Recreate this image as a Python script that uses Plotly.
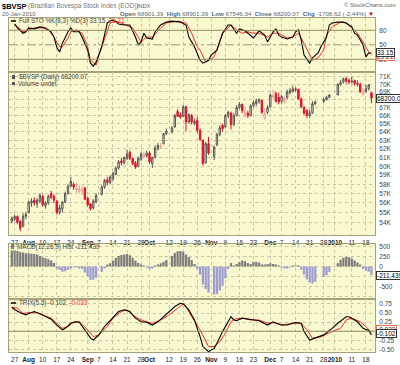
import pandas as pd
import plotly.graph_objects as go

W, H = 400, 365
FONT = "Liberation Sans, Arial, sans-serif"

# ---------------- data ----------------
days = pd.bdate_range("2009-07-24", "2010-01-20")          # 129 weekdays
N = len(days)

tick_dates = ["2009-07-27", "2009-08-03", "2009-08-10", "2009-08-17", "2009-08-24",
              "2009-09-01", "2009-09-07", "2009-09-14", "2009-09-21", "2009-09-28",
              "2009-10-01", "2009-10-12", "2009-10-19", "2009-10-26", "2009-11-02",
              "2009-11-09", "2009-11-16", "2009-11-23", "2009-12-01", "2009-12-07",
              "2009-12-14", "2009-12-21", "2009-12-28", "2010-01-01", "2010-01-11",
              "2010-01-18"]
tick_text = ["27", "<b>Aug</b>", "10", "17", "24", "<b>Sep</b>", "7", "14", "21", "28",
             "<b>Oct</b>", "12", "19", "26", "<b>Nov</b>", "9", "16", "23", "<b>Dec</b>",
             "7", "14", "21", "28", "<b>2010</b>", "11", "18"]

# OHLC in thousands of points (None = market holiday)
open_k = [54.1, 54.3, 54.6, 54.1, 53.6, 54.6, 55.0, 56.0, 56.3, 55.9,
          56.2, 56.7, 55.7, 56.0, 57.0, 56.7, 56.2, 55.0, 55.4, 56.1,
          57.0, 57.8, 58.0, 57.4, 57.3, 57.2, 57.6, 56.5, 55.9, 55.5,
          56.1, None, 56.9, 57.7, 58.5, 58.2, 58.6, 59.1, 59.8, 60.6,
          60.4, 60.9, 61.6, 60.9, 60.4, 60.0, 60.8, 61.1, 61.2, 61.5,
          60.3, 61.0, 62.0, 62.2, 62.6, 63.8, None, 64.0, 64.6, 66.5,
          66.1, 65.9, 67.1, 65.2, 66.0, 65.0, 65.4, 64.2, 63.0, 60.4,
          62.6, None, 61.1, 62.5, 63.7, 64.8, 64.6, 66.0, 66.3, 64.9,
          66.0, 67.0, 67.4, 66.0, 66.3, 66.0, 67.2, 67.5, 67.8, 67.9,
          65.7, 66.4, 67.1, 68.3, 68.8, 68.3, 67.8, 67.7, 68.3, 68.9,
          69.1, 69.4, 69.3, 68.1, 67.0, 66.6, 66.0, 66.3, 67.5, None,
          None, 67.8, 68.0, 68.3, None, None, 68.6, 70.0, 70.3, 70.8,
          70.5, 70.3, 70.5, 70.1, 70.0, 68.7, 69.0, 69.4, 68.90139]
high_k = [54.6, 54.8, 54.7, 54.2, 54.9, 55.1, 56.2, 56.5, 56.6, 56.5,
          57.0, 56.9, 56.2, 56.9, 57.3, 56.9, 56.3, 55.8, 56.2, 57.2,
          58.0, 58.8, 58.2, 58.2, 57.9, 57.8, 57.7, 56.7, 56.0, 56.4,
          57.0, None, 57.9, 58.6, 58.8, 59.0, 59.4, 60.0, 60.7, 61.0,
          61.1, 61.9, 61.8, 61.0, 60.6, 61.1, 61.6, 61.7, 61.8, 61.7,
          61.1, 62.4, 62.7, 62.7, 63.9, 64.4, None, 64.7, 66.2, 66.8,
          66.4, 67.3, 67.2, 66.3, 66.2, 65.6, 65.8, 64.4, 63.1, 62.8,
          63.4, None, 62.4, 63.9, 64.8, 65.0, 66.2, 66.6, 66.5, 66.3,
          67.3, 67.7, 67.5, 66.9, 66.6, 67.4, 67.9, 68.1, 68.2, 68.0,
          66.9, 67.3, 68.8, 69.3, 69.0, 68.9, 68.6, 68.5, 69.3, 69.5,
          69.8, 69.6, 69.4, 68.3, 67.2, 66.8, 66.7, 67.8, 67.9, None,
          None, 68.2, 68.5, 68.7, None, None, 70.1, 70.6, 70.9, 70.9,
          70.8, 71.0, 70.6, 70.5, 70.2, 69.5, 69.9, 70.0, 68.90139]
low_k = [53.9, 54.1, 53.8, 53.1, 53.5, 54.3, 54.9, 55.6, 55.7, 55.5,
         56.0, 55.6, 55.4, 55.8, 56.4, 56.0, 54.8, 54.8, 55.0, 56.0,
         56.9, 57.7, 57.4, 57.1, 57.0, 56.9, 56.3, 55.6, 55.2, 55.3,
         56.0, None, 56.8, 57.5, 57.9, 58.0, 58.4, 59.0, 59.6, 60.1,
         60.2, 60.7, 60.7, 60.1, 59.7, 59.9, 60.6, 61.0, 61.0, 60.3,
         59.8, 60.9, 61.8, 62.0, 62.5, 63.6, None, 63.8, 64.5, 65.8,
         65.6, 65.8, 64.1, 65.0, 64.9, 64.8, 63.9, 62.9, 60.1, 60.3,
         61.3, None, 60.7, 62.3, 63.5, 64.0, 64.5, 65.7, 64.3, 64.7,
         65.9, 66.8, 66.3, 65.7, 65.7, 65.9, 67.0, 67.2, 67.5, 66.2,
         65.5, 66.2, 67.0, 68.2, 67.6, 67.4, 67.5, 67.5, 68.1, 68.7,
         68.9, 69.0, 68.0, 66.9, 66.1, 65.7, 65.7, 66.2, 67.3, None,
         None, 67.6, 67.9, 68.2, None, None, 68.6, 69.8, 70.1, 70.1,
         70.0, 70.1, 69.8, 69.7, 68.9, 68.5, 68.9, 69.2, 67.54634]
close_k = [54.4, 54.6, 54.0, 53.4, 54.6, 54.8, 56.1, 56.2, 56.0, 56.3,
           56.8, 55.8, 56.0, 56.7, 56.6, 56.3, 55.0, 55.5, 56.1, 57.0,
           57.8, 58.3, 57.7, 57.6, 57.5, 57.4, 56.4, 55.8, 55.4, 56.2,
           56.8, None, 57.7, 58.4, 58.2, 58.8, 59.2, 59.8, 60.5, 60.4,
           61.0, 61.4, 60.9, 60.3, 59.9, 60.9, 61.4, 61.3, 61.5, 60.5,
           61.0, 62.1, 62.4, 62.3, 63.8, 64.1, None, 64.5, 66.0, 65.9,
           65.8, 67.1, 65.2, 66.1, 65.2, 65.3, 64.2, 63.1, 60.3, 62.6,
           61.5, None, 62.2, 63.7, 64.5, 64.4, 66.0, 66.4, 64.9, 66.0,
           67.0, 67.4, 66.6, 66.5, 66.0, 67.2, 67.6, 67.8, 68.0, 66.4,
           66.3, 67.0, 68.6, 68.5, 67.8, 67.7, 68.4, 68.2, 69.0, 69.2,
           69.4, 69.3, 68.1, 67.1, 66.3, 66.0, 66.3, 67.5, 67.7, None,
           None, 68.0, 68.3, 68.6, None, None, 70.0, 70.2, 70.7, 70.45,
           70.3, 70.4, 70.1, 70.0, 69.0, 68.95, 69.4, 69.90869, 68.20007]

# Full STO %K(8,3) and %D(3) (trading-day index, value)
sto_k_x = [1, 2, 4, 5, 6, 8, 10, 12, 14, 15, 16, 17, 18, 20, 21, 22, 24, 25, 27, 28,
           29, 30, 32, 33, 34, 35, 36, 37, 38, 40, 42, 44, 45, 46, 47, 48, 50, 51, 53, 55,
           57, 60, 62, 63, 65, 67, 68, 70, 71, 73, 75, 77, 78, 80, 81, 83, 85, 86, 88, 89,
           90, 91, 93, 94, 95, 96, 98, 100, 101, 102, 103, 104, 106, 107, 109, 110, 112, 113,
           114, 116, 118, 119, 121, 122, 123, 125, 126, 127, 128]
sto_k = [93, 85, 74, 77, 85, 83, 87, 85, 77, 66, 45, 35, 53, 77, 85, 77, 77, 66, 39, 12,
         6, 14, 46, 74, 95, 100, 101, 98, 93, 91, 91, 66, 50, 56, 74, 64, 62, 77, 91, 97,
         99, 97, 91, 66, 46, 18, 12, 18, 29, 39, 74, 91, 91, 74, 83, 79, 70, 64, 79, 74,
         70, 56, 77, 83, 70, 66, 62, 66, 77, 81, 60, 29, 12, 23, 33, 46, 66, 91,
         95, 97, 97, 95, 87, 74, 70, 50, 25, 33, 33.15]
sto_d_x = [1, 4, 5, 8, 11, 13, 15, 17, 18, 20, 21, 23, 25, 27, 28, 30, 31, 33, 35, 37,
           39, 43, 46, 48, 50, 53, 55, 59, 62, 64, 66, 67, 69, 72, 73, 75, 78, 80, 82, 84,
           86, 88, 91, 93, 95, 98, 100, 102, 104, 107, 109, 111, 112, 114, 117, 119, 121,
           123, 125, 127, 128]
sto_d = [93, 77, 79, 85, 85, 81, 66, 46, 46, 64, 77, 81, 74, 46, 18, 8, 29, 64, 95, 99,
         95, 85, 56, 66, 66, 85, 95, 99, 95, 74, 46, 39, 14, 25, 43, 74, 91, 81, 74, 77,
         74, 74, 66, 74, 74, 64, 66, 74, 53, 18, 23, 39, 70, 87, 97, 95, 85,
         74, 56, 35, 29.21]

# MACD(12,26,9) histogram, one value per trading day
macd_hist = [400, 400, 390, 360, 350, 330, 330, 320, 310, 300,
             260, 230, 210, 180, 150, 90, -40, -90, -130, -120,
             -80, -40, -20, -15, -30, -60, -150, -250, -340, -330,
             -280, None, -140, -30, 30, 80, 150, 210, 260, 290,
             300, 310, 280, 220, 150, 90, 40, 10, -20, -60,
             -40, 10, 40, 80, 120, 160, None, 260, 340, 380,
             390, 370, 300, 240, 160, 60, -60, -200, -450, -560,
             -650, None, -700, -690, -600, -480, -300, -60, 90, 20,
             60, 110, 150, 130, 90, 60, 120, 110, 100, 40,
             30, 60, 80, 60, 30, 20, -20, -50, -40, -20,
             10, 20, 10, -80, -200, -320, -400, -420, -380, None,
             None, -260, -220, -140, None, None, 80, 170, 220, 240,
             230, 200, 150, 100, 30, -60, -100, -130, -211.439]

# TRIX(5,3) and its signal line (trading-day index, value)
trix_x = [0, 1, 3, 5, 6, 8, 10, 12, 14, 16, 18, 19, 21, 23, 24, 26, 28, 29, 31, 33,
          36, 38, 40, 42, 44, 46, 48, 50, 52, 54, 56, 58, 60, 61, 63, 65, 67, 68, 70, 72,
          73, 75, 77, 78, 79, 80, 82, 84, 86, 88, 91, 93, 94, 96, 98, 101, 103, 104, 106,
          108, 111, 114, 116, 119, 120, 123, 125, 127, 128]
trix = [0.66, 0.60, 0.51, 0.45, 0.49, 0.54, 0.48, 0.40, 0.33, 0.17, 0.04, 0.08, 0.22,
        0.26, 0.25, 0.04, -0.19, -0.24, -0.10, 0.13, 0.36, 0.54, 0.59, 0.54, 0.36, 0.26,
        0.25, 0.17, 0.26, 0.40, 0.54, 0.68, 0.77, 0.75, 0.59, 0.31, -0.15, -0.42, -0.56,
        -0.47, -0.33, -0.01, 0.26, 0.40, 0.31, 0.29, 0.36, 0.33, 0.31, 0.29, 0.17, 0.26,
        0.22, 0.17, 0.17, 0.24, 0.22, -0.01, -0.24, -0.19, -0.10, 0.08, 0.22, 0.40, 0.40,
        0.26, 0.08, 0.02, -0.102]
trix_sig_x = [0, 2, 4, 6, 9, 11, 14, 16, 18, 20, 22, 24, 27, 29, 31, 34, 36, 39, 41, 43,
              46, 48, 50, 53, 56, 59, 61, 62, 64, 67, 69, 70, 72, 74, 76, 78, 79, 82, 85,
              88, 91, 94, 96, 100, 103, 105, 107, 110, 114, 117, 119, 121, 124, 126, 128]
trix_sig = [0.66, 0.63, 0.49, 0.51, 0.51, 0.45, 0.36, 0.22, 0.08, 0.13, 0.26, 0.26, 0.04,
            -0.15, -0.10, 0.13, 0.36, 0.54, 0.59, 0.45, 0.31, 0.26, 0.22, 0.31, 0.45, 0.63,
            0.75, 0.68, 0.40, 0.04, -0.29, -0.42, -0.42, -0.29, -0.05, 0.26, 0.33, 0.36,
            0.31, 0.31, 0.22, 0.24, 0.17, 0.22, 0.22, 0.04, -0.19, -0.15, -0.01, 0.08, 0.31,
            0.36, 0.26, 0.13, -0.033]

price_ticks = list(range(54000, 72000, 1000))

# ---------------- helpers ----------------
def px(x):
    return x / W


def py(y):
    return 1 - y / H


BG = "#FAF8CF"
GRID = "#C8C6A4"
BORDER = "#A3A27A"
OLIVE = "#8E8D5E"
RED = "#E3102B"
idx = list(range(N))
tick_idx = [days.get_loc(pd.Timestamp(d)) for d in tick_dates]

X_DOM = [px(9), px(375)]
XR = [-1.0, 129.25]

# split candles by colour (close vs previous close)
bo, bh, bl, bc, ro, rh, rl, rc = ([] for _ in range(8))
prev = None
for o, h, l, c in zip(open_k, high_k, low_k, close_k):
    if c is None:
        for lst in (bo, bh, bl, bc, ro, rh, rl, rc):
            lst.append(None)
        continue
    vals = [o * 1000, h * 1000, l * 1000, c * 1000]
    down = prev is not None and c < prev
    tgt, other = ((ro, rh, rl, rc), (bo, bh, bl, bc)) if down else ((bo, bh, bl, bc), (ro, rh, rl, rc))
    for lst, v in zip(tgt, vals):
        lst.append(v)
    for lst in other:
        lst.append(None)
    prev = c

fig = go.Figure()

# STO panel
fig.add_trace(go.Scatter(x=sto_d_x, y=sto_d, mode="lines", line=dict(color="#FF2A2A", width=1),
                         xaxis="x", yaxis="y", hoverinfo="skip"))
fig.add_trace(go.Scatter(x=sto_k_x, y=sto_k, mode="lines", line=dict(color="#000000", width=1.1),
                         xaxis="x", yaxis="y", hoverinfo="skip"))

# price panel
fig.add_trace(go.Candlestick(x=idx, open=bo, high=bh, low=bl, close=bc, xaxis="x2", yaxis="y2",
                             increasing=dict(line=dict(color="#555555", width=1), fillcolor="rgba(255,255,255,0.55)"),
                             decreasing=dict(line=dict(color="#222222", width=1), fillcolor="#222222"),
                             whiskerwidth=0, hoverinfo="skip"))
fig.add_trace(go.Candlestick(x=idx, open=ro, high=rh, low=rl, close=rc, xaxis="x2", yaxis="y2",
                             increasing=dict(line=dict(color="#F19A9A", width=1), fillcolor="rgba(255,255,255,0.3)"),
                             decreasing=dict(line=dict(color=RED, width=1), fillcolor=RED),
                             whiskerwidth=0, hoverinfo="skip"))

# MACD histogram
fig.add_trace(go.Bar(x=idx, y=macd_hist, xaxis="x3", yaxis="y3", width=0.8,
                     marker=dict(color=["#7E7E7E" if (v is not None and v >= 0) else "#9C9CD2" for v in macd_hist],
                                 line=dict(width=0)),
                     hoverinfo="skip"))

# TRIX panel
fig.add_trace(go.Scatter(x=trix_sig_x, y=trix_sig, mode="lines", line=dict(color="#FF2A2A", width=1),
                         xaxis="x4", yaxis="y4", hoverinfo="skip"))
fig.add_trace(go.Scatter(x=trix_x, y=trix, mode="lines", line=dict(color="#000000", width=1.1),
                         xaxis="x4", yaxis="y4", hoverinfo="skip"))


def xaxis(anchor, labels):
    return dict(domain=X_DOM, range=XR, anchor=anchor, tickmode="array", tickvals=tick_idx,
                ticktext=tick_text, showticklabels=labels, ticks="", ticklen=0, tickangle=0,
                showgrid=True, gridcolor=GRID, griddash="dot", gridwidth=1, zeroline=False,
                showline=True, mirror=True, linecolor=BORDER, linewidth=1, fixedrange=True,
                automargin=False, ticklabelstandoff=1,
                tickfont=dict(size=6.5, color="#222222", family=FONT),
                rangeslider=dict(visible=False))


def yaxis(anchor, dom, rng, tickvals, ticktext, grid=True, **kw):
    d = dict(domain=dom, range=rng, anchor=anchor, side="right", tickmode="array",
             tickvals=tickvals, ticktext=ticktext, ticks="", ticklen=0, showgrid=grid,
             gridcolor=GRID, griddash="dot", gridwidth=1, zeroline=False, showline=True,
             mirror=True, linecolor=BORDER, linewidth=1, fixedrange=True, automargin=False,
             ticklabelstandoff=2,
             tickfont=dict(size=6.5, color="#444444", family=FONT))
    d.update(kw)
    return d


fig.update_layout(
    width=W, height=H, margin=dict(l=0, r=0, t=0, b=0),
    paper_bgcolor="white", plot_bgcolor=BG, showlegend=False, bargap=0.15,
    font=dict(family=FONT, size=7, color="#333333"),
    xaxis=xaxis("y", False), xaxis2=xaxis("y2", True),
    xaxis3=xaxis("y3", False), xaxis4=xaxis("y4", True),
    yaxis=yaxis("x", [py(72), py(18)], [-6.3, 105.5], [20, 50, 80], ["20", "50", "80"], grid=False),
    yaxis2=yaxis("x2", [py(235), py(72)], [4.72202, 4.85510], price_ticks,
                 ["" if t == 68000 else f"{t // 1000}K" for t in price_ticks], type="log"),
    yaxis3=yaxis("x3", [py(298.5), py(243.5)], [-800, 575], [-750, -500, -250, 0, 250, 500],
                 ["", "-500", "", "0", "250", "500"]),
    yaxis4=yaxis("x4", [py(352), py(298.5)], [-0.57, 0.90], [-0.5, -0.25, 0, 0.25, 0.5, 0.75],
                 ["-0.50", "-0.25", "", "0.25", "0.50", "0.75"]),
)

shapes = [
    dict(type="line", xref="x domain", yref="y", x0=0, x1=1, y0=80, y1=80, line=dict(color=OLIVE, width=1)),
    dict(type="line", xref="x domain", yref="y", x0=0, x1=1, y0=20, y1=20, line=dict(color=OLIVE, width=1)),
    dict(type="line", xref="x domain", yref="y", x0=0, x1=1, y0=50, y1=50,
         line=dict(color="#9A9974", width=1, dash="dashdot")),
    dict(type="line", xref="x4 domain", yref="y4", x0=0, x1=1, y0=0, y1=0, line=dict(color=OLIVE, width=1)),
    # legend icons
    dict(type="line", xref="paper", yref="paper", x0=px(11), x1=px(16), y0=py(21), y1=py(21),
         line=dict(color="black", width=1.5)),
    dict(type="line", xref="paper", yref="paper", x0=px(11), x1=px(16), y0=py(303), y1=py(303),
         line=dict(color="black", width=1.5)),
    dict(type="rect", xref="paper", yref="paper", x0=px(12), x1=px(15), y0=py(79), y1=py(75),
         fillcolor="#555555", line=dict(width=0)),
    dict(type="rect", xref="paper", yref="paper", x0=px(12), x1=px(15), y0=py(85), y1=py(82),
         fillcolor="#555555", line=dict(width=0)),
    dict(type="rect", xref="paper", yref="paper", x0=px(11), x1=px(14), y0=py(249), y1=py(245),
         fillcolor="#7E7E7E", line=dict(width=0)),
]
fig.update_layout(shapes=shapes)


def ann(x, y, text, size=6.5, color="#333333", anchor="left", **kw):
    d = dict(x=px(x), y=py(y), xref="paper", yref="paper", text=text, showarrow=False,
             xanchor=anchor, yanchor="middle", font=dict(size=size, color=color, family=FONT))
    d.update(kw)
    return d


def box(y, text, color="#000000", border="#333333"):
    return ann(375.5, y, text, size=6.5, color=color, bordercolor=border, borderwidth=1,
               borderpad=0, bgcolor="white")


anns = [
    ann(0, 6, "<b>$BVSP</b>", size=7.5, color="#000000"),
    ann(26, 6, "(Brazilian Bovespa Stock Index (EOD))", size=6.4, color="#777777"),
    ann(135, 6, "INDX", size=5.5, color="#555555"),
    ann(398, 5, "© StockCharts.com", size=6, color="#666666", anchor="right"),
    ann(0, 13.5, "20-Jan-2010", size=6, color="#666666"),
    ann(376, 13.5, "<b>Open</b> 68901.39  <b>High</b> 68901.39  <b>Low</b> 67546.34  "
                   "<b>Close</b> 68200.07  <b>Chg</b> -1708.62 (-2.44%) <span style='color:#D00000'>▼</span>",
        size=6.2, color="#666666", anchor="right"),
    ann(17, 21, "Full STO %K(8,3) %D(3) 33.15, <span style='color:#FF3030'>29.21</span>", size=6.3, color="#444444"),
    ann(17, 77, "$BVSP (Daily) 68200.07", size=6.3, color="#444444"),
    ann(16, 83.5, "Volume undef", size=6.3, color="#444444"),
    ann(15, 247, "MACD(12,26,9) Hist -211.439", size=6.3, color="#444444"),
    ann(17, 303, "TRIX(5,3) -0.102, <span style='color:#FF3030'>-0.033</span>", size=6.3, color="#444444"),
    box(56, "29.21", color="#333333", border="#FF6A4A"),
    box(52.5, "33.15"),
    box(98.3, "68200.07"),
    box(275.5, "-211.439"),
    box(329, "-0.033", color="#333333", border="#FF6A4A"),
    box(333, "-0.102"),
]
fig.update_layout(annotations=anns)

fig.write_html("out.html", config={"displayModeBar": False},
               post_script="document.body.style.margin='0px';document.body.style.overflow='hidden';")
